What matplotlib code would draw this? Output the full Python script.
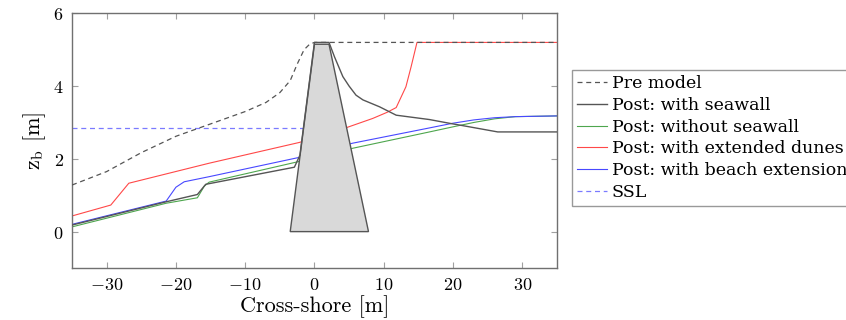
import numpy as np
import matplotlib.pyplot as plt
from matplotlib.ticker import FuncFormatter

plt.rcParams['mathtext.fontset'] = 'cm'

# profiles (cross-shore [m], bed level [m])
pre_x = [-35, -30, -25, -20, -15, -10, -7, -5, -3.5, -2.5, -1.5, -0.7, 0, 35]
pre_z = [1.28, 1.65, 2.17, 2.62, 2.96, 3.3, 3.55, 3.82, 4.15, 4.6, 5.0, 5.15, 5.2, 5.2]

wall_x = [-35, -21.4, -16.9, -15.7, -2.9, -2.1, 0, 2.1, 2.9, 4.1, 5.0, 6.0, 7.0, 9.4, 11.8, 16.6, 19.7, 21.2, 26.45, 35]
wall_z = [0.18, 0.82, 1.02, 1.3, 1.77, 2.1, 5.2, 5.2, 4.8, 4.26, 4.0, 3.75, 3.62, 3.43, 3.2, 3.08, 2.97, 2.92, 2.74, 2.74]

nowall_x = [-35, -21.4, -16.9, -15.9, -15.2, -2.4, 5.5, 16.6, 20, 23, 26, 29, 35]
nowall_z = [0.13, 0.78, 0.93, 1.25, 1.36, 1.92, 2.29, 2.74, 2.88, 3.0, 3.1, 3.16, 3.18]

dune_x = [-35, -29.4, -26.8, -15.2, -2.2, 4.8, 8.4, 10.5, 11.8, 13.2, 13.95, 14.8, 35]
dune_z = [0.43, 0.73, 1.33, 1.88, 2.45, 2.87, 3.11, 3.28, 3.41, 3.98, 4.53, 5.2, 5.2]

beach_x = [-35, -21.4, -20.0, -18.8, -15.2, -2.2, 5.5, 16.6, 20, 23, 26, 29, 35]
beach_z = [0.2, 0.84, 1.22, 1.37, 1.51, 2.04, 2.43, 2.85, 2.98, 3.07, 3.13, 3.16, 3.18]

ssl_x = [-35, 0]
ssl_z = [2.85, 2.85]

seawall_x = [-3.5, 0, 2.1, 7.8]
seawall_z = [0, 5.15, 5.15, 0]

fig = plt.figure(figsize=(8.46, 3.2), dpi=100)
ax = fig.add_axes([0.0851, 0.1625, 0.5732, 0.7959])

ax.plot(pre_x, pre_z, color='#555555', lw=0.9, ls=(0, (4, 3)), label='Pre model', zorder=4)
ax.plot(wall_x, wall_z, color='#555555', lw=1.0, label='Post: with seawall', zorder=4)
ax.plot(nowall_x, nowall_z, color='#4ea64e', lw=0.8, label='Post: without seawall', zorder=2)
ax.plot(dune_x, dune_z, color='#ff4848', lw=0.8, label='Post: with extended dunes', zorder=2)
ax.plot(beach_x, beach_z, color='#4848ff', lw=0.8, label='Post: with beach extension', zorder=2)
ax.plot(ssl_x, ssl_z, color='#7a7aff', lw=0.9, ls=(0, (4, 3)), label='SSL', zorder=1)
ax.fill(seawall_x, seawall_z, facecolor='#d9d9d9', edgecolor='#555555', lw=1.0, zorder=3)

ax.set_xlim(-35, 35)
ax.set_ylim(-1, 6)
ax.set_xticks([-30, -20, -10, 0, 10, 20, 30])
ax.set_yticks([0, 2, 4, 6])
fmt = FuncFormatter(lambda v, p: r'$%d$' % v)
ax.xaxis.set_major_formatter(fmt)
ax.yaxis.set_major_formatter(fmt)
ax.tick_params(direction='in', top=True, right=True, length=4, width=0.8,
               color='#a0a0a0', labelsize=13, pad=6)
for s in ax.spines.values():
    s.set_color('#707070')
    s.set_linewidth(1.0)

ax.set_xlabel('Cross-shore [m]', family='cmr10', fontsize=16, labelpad=1)
ax.set_ylabel(r'$\mathrm{z}_\mathrm{b}$ [m]', family='cmr10', fontsize=16, labelpad=4)

leg = fig.legend(loc='upper left', bbox_to_anchor=(0.676, 0.781),
                 prop={'family': 'DejaVu Serif', 'size': 12.5}, frameon=True,
                 fancybox=False, edgecolor='#808080', handlelength=1.7,
                 handletextpad=0.3, borderpad=0.3, labelspacing=0.27, borderaxespad=0)
leg.get_frame().set_linewidth(1.0)

fig.savefig('out.png', dpi=100)
